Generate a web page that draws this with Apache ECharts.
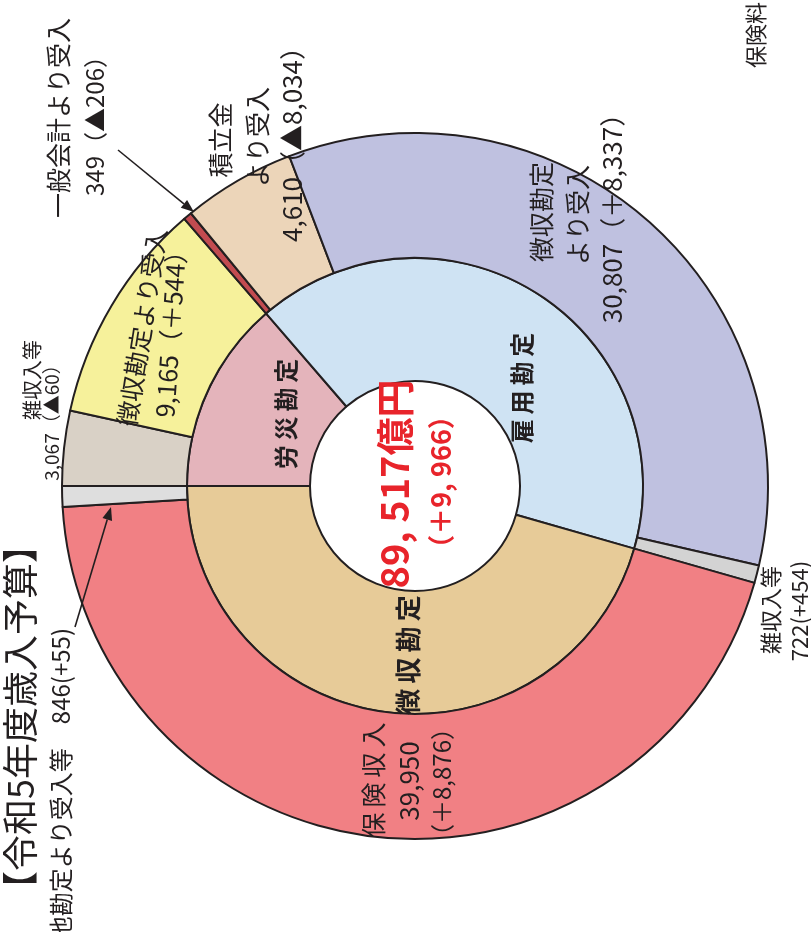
<!DOCTYPE html>
<html><head><meta charset="utf-8">
<script src="https://cdn.jsdelivr.net/npm/echarts@6/dist/echarts.min.js"></script>
<style>html,body{margin:0;padding:0;background:#fff}#c{width:811px;height:932px}</style>
</head><body><div id="c"></div>
<script>
// ---- data (outer ring, clockwise from 9 o'clock) ----
const outerNames = ['雑収入等','徴収勘定より受入','一般会計より受入','積立金より受入','徴収勘定より受入','雑収入等','保険収入','他勘定より受入等'];
const outerValues = [3067, 9165, 349, 4610, 30807, 722, 39950, 846];
const outerChanges = ['▲60','＋544','▲206','▲8,034','＋8,337','+454','＋8,876','+55'];
// ---- inner ring ----
const innerNames = ['労災勘定','雇用勘定','徴収勘定'];
const innerValues = [12232, 36488, 40796];
// ---- total ----
const totalValue = 89517;
const totalChange = '＋9, 966';
const titleText = '【令和5年度歳入予算】';

const outerColors = ['#d9d1c6','#f6f19b','#c24b50','#ecd5b9','#bfc1e0','#d3d3d3','#f18084','#dedede'];
const innerColors = ['#e4b4bb','#cfe3f3','#e7cb98'];

const FONT = '"Noto Sans CJK JP","Noto Sans",sans-serif';
const INK = '#231f20';
const RED = '#e8242b';
function fmt(v){ return v.toLocaleString('en-US'); }
function spaced(s){ return s.split('').join('\u2009'); }
function T(text, x, y, size, o){
  o = o || {};
  return {type:'text', x:x, y:y, z:100, rotation:(o.rot!==undefined?o.rot:90)*Math.PI/180,
    style:{text:text, fill:o.fill||INK, fontSize:size, fontFamily:FONT, fontWeight:o.bold?'bold':'normal',
      align:o.align||'center', verticalAlign:'middle'}};
}
function arrow(x1,y1,x2,y2){
  const a = Math.atan2(y2-y1, x2-x1), L=13, W=5;
  const bx = x2 - L*Math.cos(a), by = y2 - L*Math.sin(a);
  return [
    {type:'line', z:100, shape:{x1:x1,y1:y1,x2:bx,y2:by}, style:{stroke:INK, lineWidth:1.6}},
    {type:'polygon', z:100, shape:{points:[[x2,y2],[bx - W*Math.sin(a), by + W*Math.cos(a)],[bx + W*Math.sin(a), by - W*Math.cos(a)]]}, style:{fill:INK}}
  ];
}
const lbl = (i)=> fmt(outerValues[i]);
const graphics = [
  T(titleText, 20, 717, 36),
  T(outerNames[7] + '　' + lbl(7) + '(' + outerChanges[7] + ')', 61, 628, 24, {align:'right'}),
  ...arrow(75, 627, 111, 507),
  // 雑収入等 3,067
  T(outerNames[0], 32, 380, 20),
  T(lbl(0) + '（' + outerChanges[0] + '）', 52, 418, 19),
  // 徴収勘定より受入 9,165
  T(outerNames[1], 142, 327, 25, {rot:81}),
  T(lbl(1) + '（' + outerChanges[1] + '）', 171, 328, 25, {rot:86}),
  // 一般会計より受入 349
  T(outerNames[2], 58, 118, 25),
  T(lbl(2) + '（' + outerChanges[2] + '）', 95, 120, 24),
  ...arrow(118, 150, 194, 212),
  // 積立金より受入 4,610
  T('積立金', 220, 140, 25),
  T('より受入', 257, 137, 25),
  T(lbl(3) + '（' + outerChanges[3] + '）', 292, 138, 26),
  // 徴収勘定より受入 30,807
  T('徴収勘定', 541, 212, 25),
  T('より受入', 577, 215, 25),
  T(lbl(4) + '（' + outerChanges[4] + '）', 612, 212, 26),
  // 雑収入等 722
  T(outerNames[5], 771, 610, 22),
  T(lbl(5) + '(' + outerChanges[5] + ')', 800, 611, 22),
  // 保険収入
  T(spaced(outerNames[6]), 373, 780, 25),
  T(lbl(6), 409, 781, 26),
  T('（' + outerChanges[6] + '）', 442, 782, 24),
  // inner
  T(spaced(innerNames[0]), 286, 414, 24, {bold:true}),
  T(spaced(innerNames[1]), 522, 388, 24, {bold:true}),
  T(spaced(innerNames[2]), 408, 655, 26, {bold:true}),
  // centre
  T(fmt(totalValue).replace(',', ', ') + '億円', 395, 484, 38, {bold:true, fill:RED}),
  T('（' + totalChange + '）', 441, 482, 27, {bold:true, fill:RED}),
  T('保険料', 756, 35, 22),
];

const chart = echarts.init(document.getElementById('c'));
chart.setOption({
  backgroundColor:'#ffffff',
  animation:false,
  series:[
    {type:'pie', silent:true, center:[415,486], radius:[105,228], startAngle:180, clockwise:true,
     label:{show:false}, labelLine:{show:false}, itemStyle:{borderColor:INK, borderWidth:2},
     data: innerNames.map((n,i)=>({name:n, value:innerValues[i], itemStyle:{color:innerColors[i]}}))},
    {type:'pie', silent:true, center:[415,486], radius:[228,353], startAngle:180, clockwise:true,
     label:{show:false}, labelLine:{show:false}, itemStyle:{borderColor:INK, borderWidth:2},
     data: outerNames.map((n,i)=>({name:n, value:outerValues[i], itemStyle:{color:outerColors[i]}}))}
  ],
  graphic:{elements: graphics}
});
</script></body></html>
